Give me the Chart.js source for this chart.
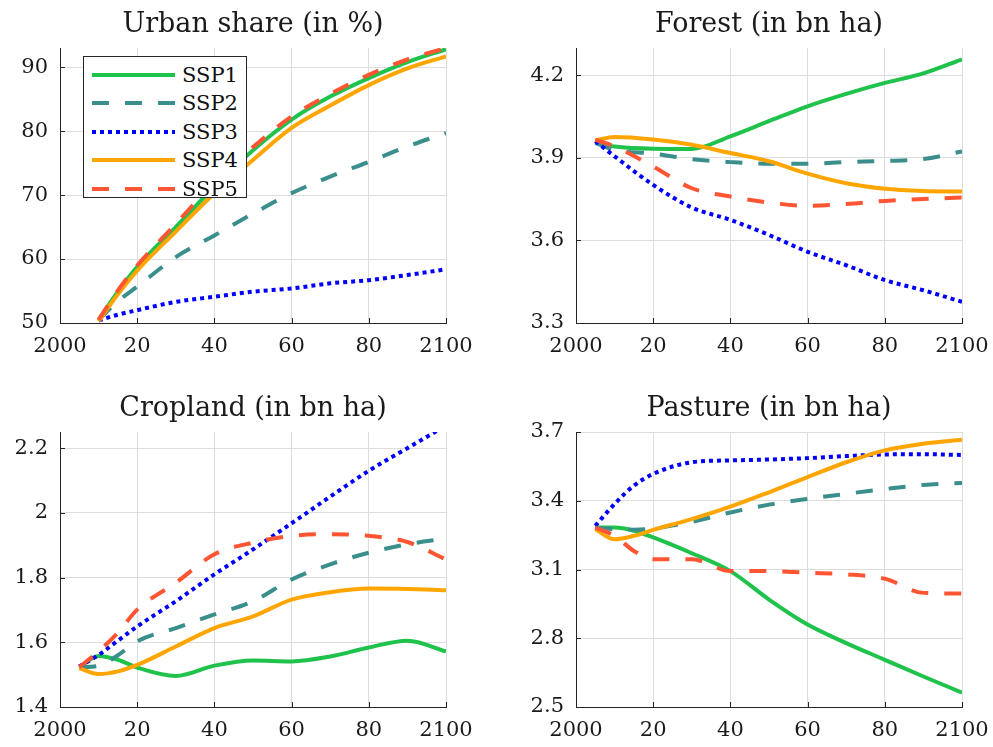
<!DOCTYPE html>
<html>
<head>
<meta charset="utf-8">
<script src="https://cdn.jsdelivr.net/npm/chart.js@4.4.0/dist/chart.umd.min.js"></script>
<style>
html,body{margin:0;padding:0;background:#fff;}
#wrap{position:relative;width:993px;height:747px;overflow:hidden;background:#fff;}
#wrap canvas{position:absolute;}
#legend{position:absolute;left:83px;top:56px;width:162px;height:140px;border:1px solid #262626;background:#fff;z-index:5;
  font-family:'DejaVu Serif',serif;font-size:21px;color:#111;}
#legend .row{position:absolute;left:0;width:162px;height:28px;}
#legend svg{position:absolute;left:8px;top:10px;}
#legend span{position:absolute;left:98px;top:0;line-height:28px;white-space:nowrap;}
</style>
</head>
<body>
<div id="wrap">
  <canvas id="c1" width="496" height="373" style="left:0;top:0"></canvas>
  <canvas id="c2" width="500" height="373" style="left:516px;top:0"></canvas>
  <canvas id="c3" width="496" height="373" style="left:0;top:384px"></canvas>
  <canvas id="c4" width="500" height="373" style="left:516px;top:384px"></canvas>
  <div id="legend"></div>
</div>
<script>
// ---------- data ----------
const seriesNames = ['SSP1', 'SSP2', 'SSP3', 'SSP4', 'SSP5'];
const xTicks = [2000, 2020, 2040, 2060, 2080, 2100];
const xTickLabels = ['2000', '20', '40', '60', '80', '2100'];

// Urban share (in %)
const urbanYears = [2010, 2015, 2020, 2030, 2040, 2050, 2060, 2070, 2080, 2090, 2100];
const urbanSSP1 = [50.5, 54.9, 58.8, 65.0, 71.3, 77.0, 81.8, 85.4, 88.3, 90.8, 92.8];
const urbanSSP2 = [50.5, 53.4, 55.7, 60.3, 63.7, 67.1, 70.3, 72.9, 75.2, 77.6, 79.7];
const urbanSSP3 = [50.4, 51.3, 52.0, 53.3, 54.1, 54.9, 55.4, 56.2, 56.7, 57.5, 58.4];
const urbanSSP4 = [50.3, 54.5, 58.2, 64.3, 70.3, 75.5, 80.5, 84.0, 87.2, 89.8, 91.7];
const urbanSSP5 = [50.5, 55.1, 59.0, 65.5, 72.0, 77.5, 82.3, 85.8, 88.8, 91.2, 93.0];
const urbanTicks = [50, 60, 70, 80, 90];
const urbanTickLabels = ['50', '60', '70', '80', '90'];

// Forest (in bn ha)
const forestYears = [2005, 2010, 2020, 2030, 2040, 2050, 2060, 2070, 2080, 2090, 2100];
const forestSSP1 = [3.955, 3.942, 3.934, 3.933, 3.979, 4.034, 4.088, 4.133, 4.173, 4.208, 4.259];
const forestSSP2 = [3.955, 3.930, 3.916, 3.896, 3.885, 3.879, 3.879, 3.885, 3.889, 3.896, 3.924];
const forestSSP3 = [3.961, 3.906, 3.802, 3.720, 3.675, 3.620, 3.559, 3.510, 3.456, 3.419, 3.377];
const forestSSP4 = [3.964, 3.976, 3.967, 3.948, 3.918, 3.888, 3.843, 3.808, 3.788, 3.780, 3.778];
const forestSSP5 = [3.967, 3.942, 3.869, 3.790, 3.760, 3.738, 3.726, 3.733, 3.744, 3.751, 3.756];
const forestTicks = [3.3, 3.6, 3.9, 4.2];
const forestTickLabels = ['3.3', '3.6', '3.9', '4.2'];

// Cropland (in bn ha)
const cropYears = [2005, 2010, 2015, 2020, 2030, 2040, 2050, 2060, 2070, 2080, 2090, 2100];
const cropSSP1 = [1.523, 1.558, 1.546, 1.522, 1.496, 1.528, 1.544, 1.541, 1.556, 1.584, 1.605, 1.572];
const cropSSP2 = [1.523, 1.527, 1.560, 1.603, 1.644, 1.686, 1.727, 1.794, 1.841, 1.877, 1.903, 1.921];
const cropSSP3 = [1.525, 1.561, 1.605, 1.649, 1.727, 1.810, 1.887, 1.968, 2.050, 2.130, 2.200, 2.270];
const cropSSP4 = [1.520, 1.502, 1.510, 1.530, 1.587, 1.644, 1.680, 1.732, 1.755, 1.766, 1.765, 1.761];
const cropSSP5 = [1.523, 1.572, 1.630, 1.701, 1.784, 1.872, 1.908, 1.929, 1.934, 1.929, 1.910, 1.856];
const cropTicks = [1.4, 1.6, 1.8, 2, 2.2];
const cropTickLabels = ['1.4', '1.6', '1.8', '2', '2.2'];

// Pasture (in bn ha)
const pastureYears = [2005, 2010, 2015, 2020, 2030, 2040, 2050, 2060, 2070, 2080, 2090, 2100];
const pastureSSP1 = [3.283, 3.283, 3.269, 3.240, 3.171, 3.093, 2.969, 2.860, 2.779, 2.706, 2.633, 2.563];
const pastureSSP2 = [3.283, 3.276, 3.274, 3.279, 3.308, 3.349, 3.383, 3.408, 3.430, 3.451, 3.469, 3.478];
const pastureSSP3 = [3.291, 3.386, 3.466, 3.517, 3.568, 3.576, 3.580, 3.586, 3.595, 3.602, 3.603, 3.600];
const pastureSSP4 = [3.276, 3.232, 3.247, 3.273, 3.320, 3.374, 3.437, 3.503, 3.568, 3.620, 3.649, 3.666];
const pastureSSP5 = [3.283, 3.247, 3.181, 3.145, 3.145, 3.093, 3.093, 3.086, 3.079, 3.060, 2.998, 2.995];
const pastureTicks = [2.5, 2.8, 3.1, 3.4, 3.7];
const pastureTickLabels = ['2.5', '2.8', '3.1', '3.4', '3.7'];

// ---------- styles ----------
const colors = ['#1fc24b', '#3a8f8d', '#0000ff', '#ffa500', '#ff5533'];
const dashes = [[], [17, 16], [4, 4], [], [17, 16]];
const FONT = "'DejaVu Serif', serif";
const TXT = '#1a1a1a';
const AXIS = '#262626';
const GRID = '#dddddd';

const innerTicks = {
  id: 'innerTicks',
  beforeDatasetsDraw(chart) {
    const {ctx, chartArea: a, scales: {x, y}} = chart;
    ctx.save();
    ctx.strokeStyle = AXIS;
    ctx.lineWidth = 1;
    ctx.beginPath();
    x.ticks.forEach(t => {
      const px = Math.round(x.getPixelForValue(t.value)) + 0.5;
      ctx.moveTo(px, a.bottom); ctx.lineTo(px, a.bottom - 5);
    });
    y.ticks.forEach(t => {
      const py = Math.round(y.getPixelForValue(t.value)) + 0.5;
      ctx.moveTo(a.left, py); ctx.lineTo(a.left + 5, py);
    });
    ctx.stroke();
    ctx.restore();
  }
};

function makeChart(id, title, years, seriesList, yMin, yMax, yTicks, yTickLabels, padRight) {
  const datasets = seriesList.map((vals, i) => ({
    label: seriesNames[i],
    data: years.map((yr, k) => ({x: yr, y: vals[k]})),
    borderColor: colors[i],
    backgroundColor: colors[i],
    borderWidth: 4,
    borderDash: dashes[i],
    borderCapStyle: 'butt',
    pointRadius: 0,
    fill: false,
    cubicInterpolationMode: 'monotone',
    order: 5 - i
  }));
  return new Chart(document.getElementById(id), {
    type: 'line',
    data: {datasets},
    options: {
      responsive: false,
      animation: false,
      events: [],
      layout: {padding: {left: 0, right: padRight, top: 0, bottom: 0}},
      plugins: {
        legend: {display: false},
        tooltip: {enabled: false},
        title: {
          display: true, text: title, fullSize: false,
          color: TXT,
          font: {family: FONT, size: 27, weight: 'normal', lineHeight: 1.2},
          padding: {top: 9, bottom: 6.6}
        }
      },
      scales: {
        x: {
          type: 'linear', min: 2000, max: 2100,
          afterBuildTicks: s => { s.ticks = xTicks.map(v => ({value: v})); },
          afterFit: s => { s.height = 50; },
          ticks: {
            callback: (v, i) => xTickLabels[i],
            font: {family: FONT, size: 21}, color: TXT,
            padding: 11, maxRotation: 0, autoSkip: false
          },
          grid: {color: GRID, lineWidth: 1, drawTicks: false},
          border: {color: AXIS, width: 1}
        },
        y: {
          type: 'linear', min: yMin, max: yMax,
          afterBuildTicks: s => { s.ticks = yTicks.map(v => ({value: v})); },
          afterFit: s => { s.width = 60; },
          ticks: {
            callback: (v, i) => yTickLabels[i],
            font: {family: FONT, size: 21}, color: TXT,
            padding: 12, autoSkip: false
          },
          grid: {color: GRID, lineWidth: 1, drawTicks: false},
          border: {color: AXIS, width: 1}
        }
      }
    },
    plugins: [innerTicks]
  });
}

makeChart('c1', 'Urban share (in %)', urbanYears,
  [urbanSSP1, urbanSSP2, urbanSSP3, urbanSSP4, urbanSSP5], 50, 93, urbanTicks, urbanTickLabels, 50);
makeChart('c2', 'Forest (in bn ha)', forestYears,
  [forestSSP1, forestSSP2, forestSSP3, forestSSP4, forestSSP5], 3.3, 4.3, forestTicks, forestTickLabels, 54);
makeChart('c3', 'Cropland (in bn ha)', cropYears,
  [cropSSP1, cropSSP2, cropSSP3, cropSSP4, cropSSP5], 1.4, 2.25, cropTicks, cropTickLabels, 50);
makeChart('c4', 'Pasture (in bn ha)', pastureYears,
  [pastureSSP1, pastureSSP2, pastureSSP3, pastureSSP4, pastureSSP5], 2.5, 3.7, pastureTicks, pastureTickLabels, 54);

// ---------- legend (HTML, real text) ----------
const legend = document.getElementById('legend');
seriesNames.forEach((name, i) => {
  const row = document.createElement('div');
  row.className = 'row';
  row.style.top = (3.5 + i * 28.6) + 'px';
  const svgNS = 'http://www.w3.org/2000/svg';
  const svg = document.createElementNS(svgNS, 'svg');
  svg.setAttribute('width', '83'); svg.setAttribute('height', '8');
  const line = document.createElementNS(svgNS, 'line');
  line.setAttribute('x1', '0'); line.setAttribute('x2', '83');
  line.setAttribute('y1', '4'); line.setAttribute('y2', '4');
  line.setAttribute('stroke', colors[i]);
  line.setAttribute('stroke-width', '4');
  if (dashes[i].length) line.setAttribute('stroke-dasharray', dashes[i].join(' '));
  svg.appendChild(line);
  const span = document.createElement('span');
  span.textContent = name;
  row.appendChild(svg);
  row.appendChild(span);
  legend.appendChild(row);
});
</script>
</body>
</html>
